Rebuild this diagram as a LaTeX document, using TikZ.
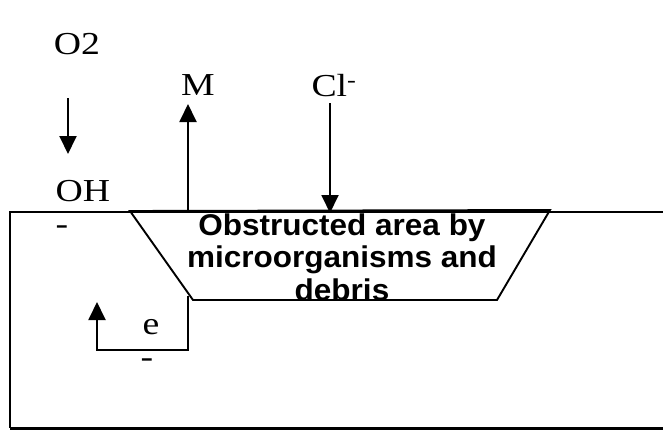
\documentclass[tikz,border=0pt]{standalone}
\usepackage{fontspec}
\setmainfont{Liberation Serif}[FakeStretch=1.18]
\newfontfamily\boldsans[FakeStretch=1.05]{Liberation Sans Bold}
\usetikzlibrary{arrows.meta}
\begin{document}
\begin{tikzpicture}[x=1pt,y=-1pt,line width=1.9pt,
  lbl/.style={font=\fontsize{32}{35}\selectfont, inner sep=0pt},
  minus/.style={lbl, text height=0.3em, text depth=0pt},
  arr/.style={-{Triangle[length=18pt,width=17pt]}},
  obstext/.style={font=\boldsans\fontsize{30}{32.5}\selectfont, align=center, inner sep=0pt}]
\useasboundingbox (0,0) rectangle (663,431);
\fill[white] (0,0) rectangle (663,431);
% outer box
\draw (663,212) -- (10,212) -- (10,428);
\draw[line width=3pt] (10,428) -- (663,428);
% obstructed area
\draw (130,211) -- (193,300) -- (497,300) -- (550,210) -- cycle;
\node[obstext] (obs) at (342,257) {Obstructed area by\\microorganisms and\\debris};
% labels
\node[lbl] (o2) at (77,44) {O2};
\node[lbl] (oh) at (83,191) {OH};
\node[minus] (ohm) at (62,233) {-};
\node[lbl] (m) at (198,85) {M};
\node[lbl] (cl) at (334,86) {Cl\textsuperscript{-}};
\node[lbl] (e) at (151,327) {e};
\node[minus] (em) at (147,366) {-};
% arrows
\coordinate (o2s) at (68,98);
\coordinate (o2e) at (68,154);
\draw[arr] (o2s) -- (o2e);
\coordinate (ms) at (188,212);
\coordinate (me) at (188,104);
\draw[arr] (ms) -- (me);
\coordinate (cls) at (330,103);
\coordinate (cle) at (330,213);
\draw[arr] (cls) -- (cle);
\coordinate (es) at (188,296);
\coordinate (ec1) at (188,350);
\coordinate (ec2) at (97,350);
\coordinate (ee) at (97,302);
\draw[arr] (es) -- (ec1) -- (ec2) -- (ee);
\end{tikzpicture}
\end{document}
